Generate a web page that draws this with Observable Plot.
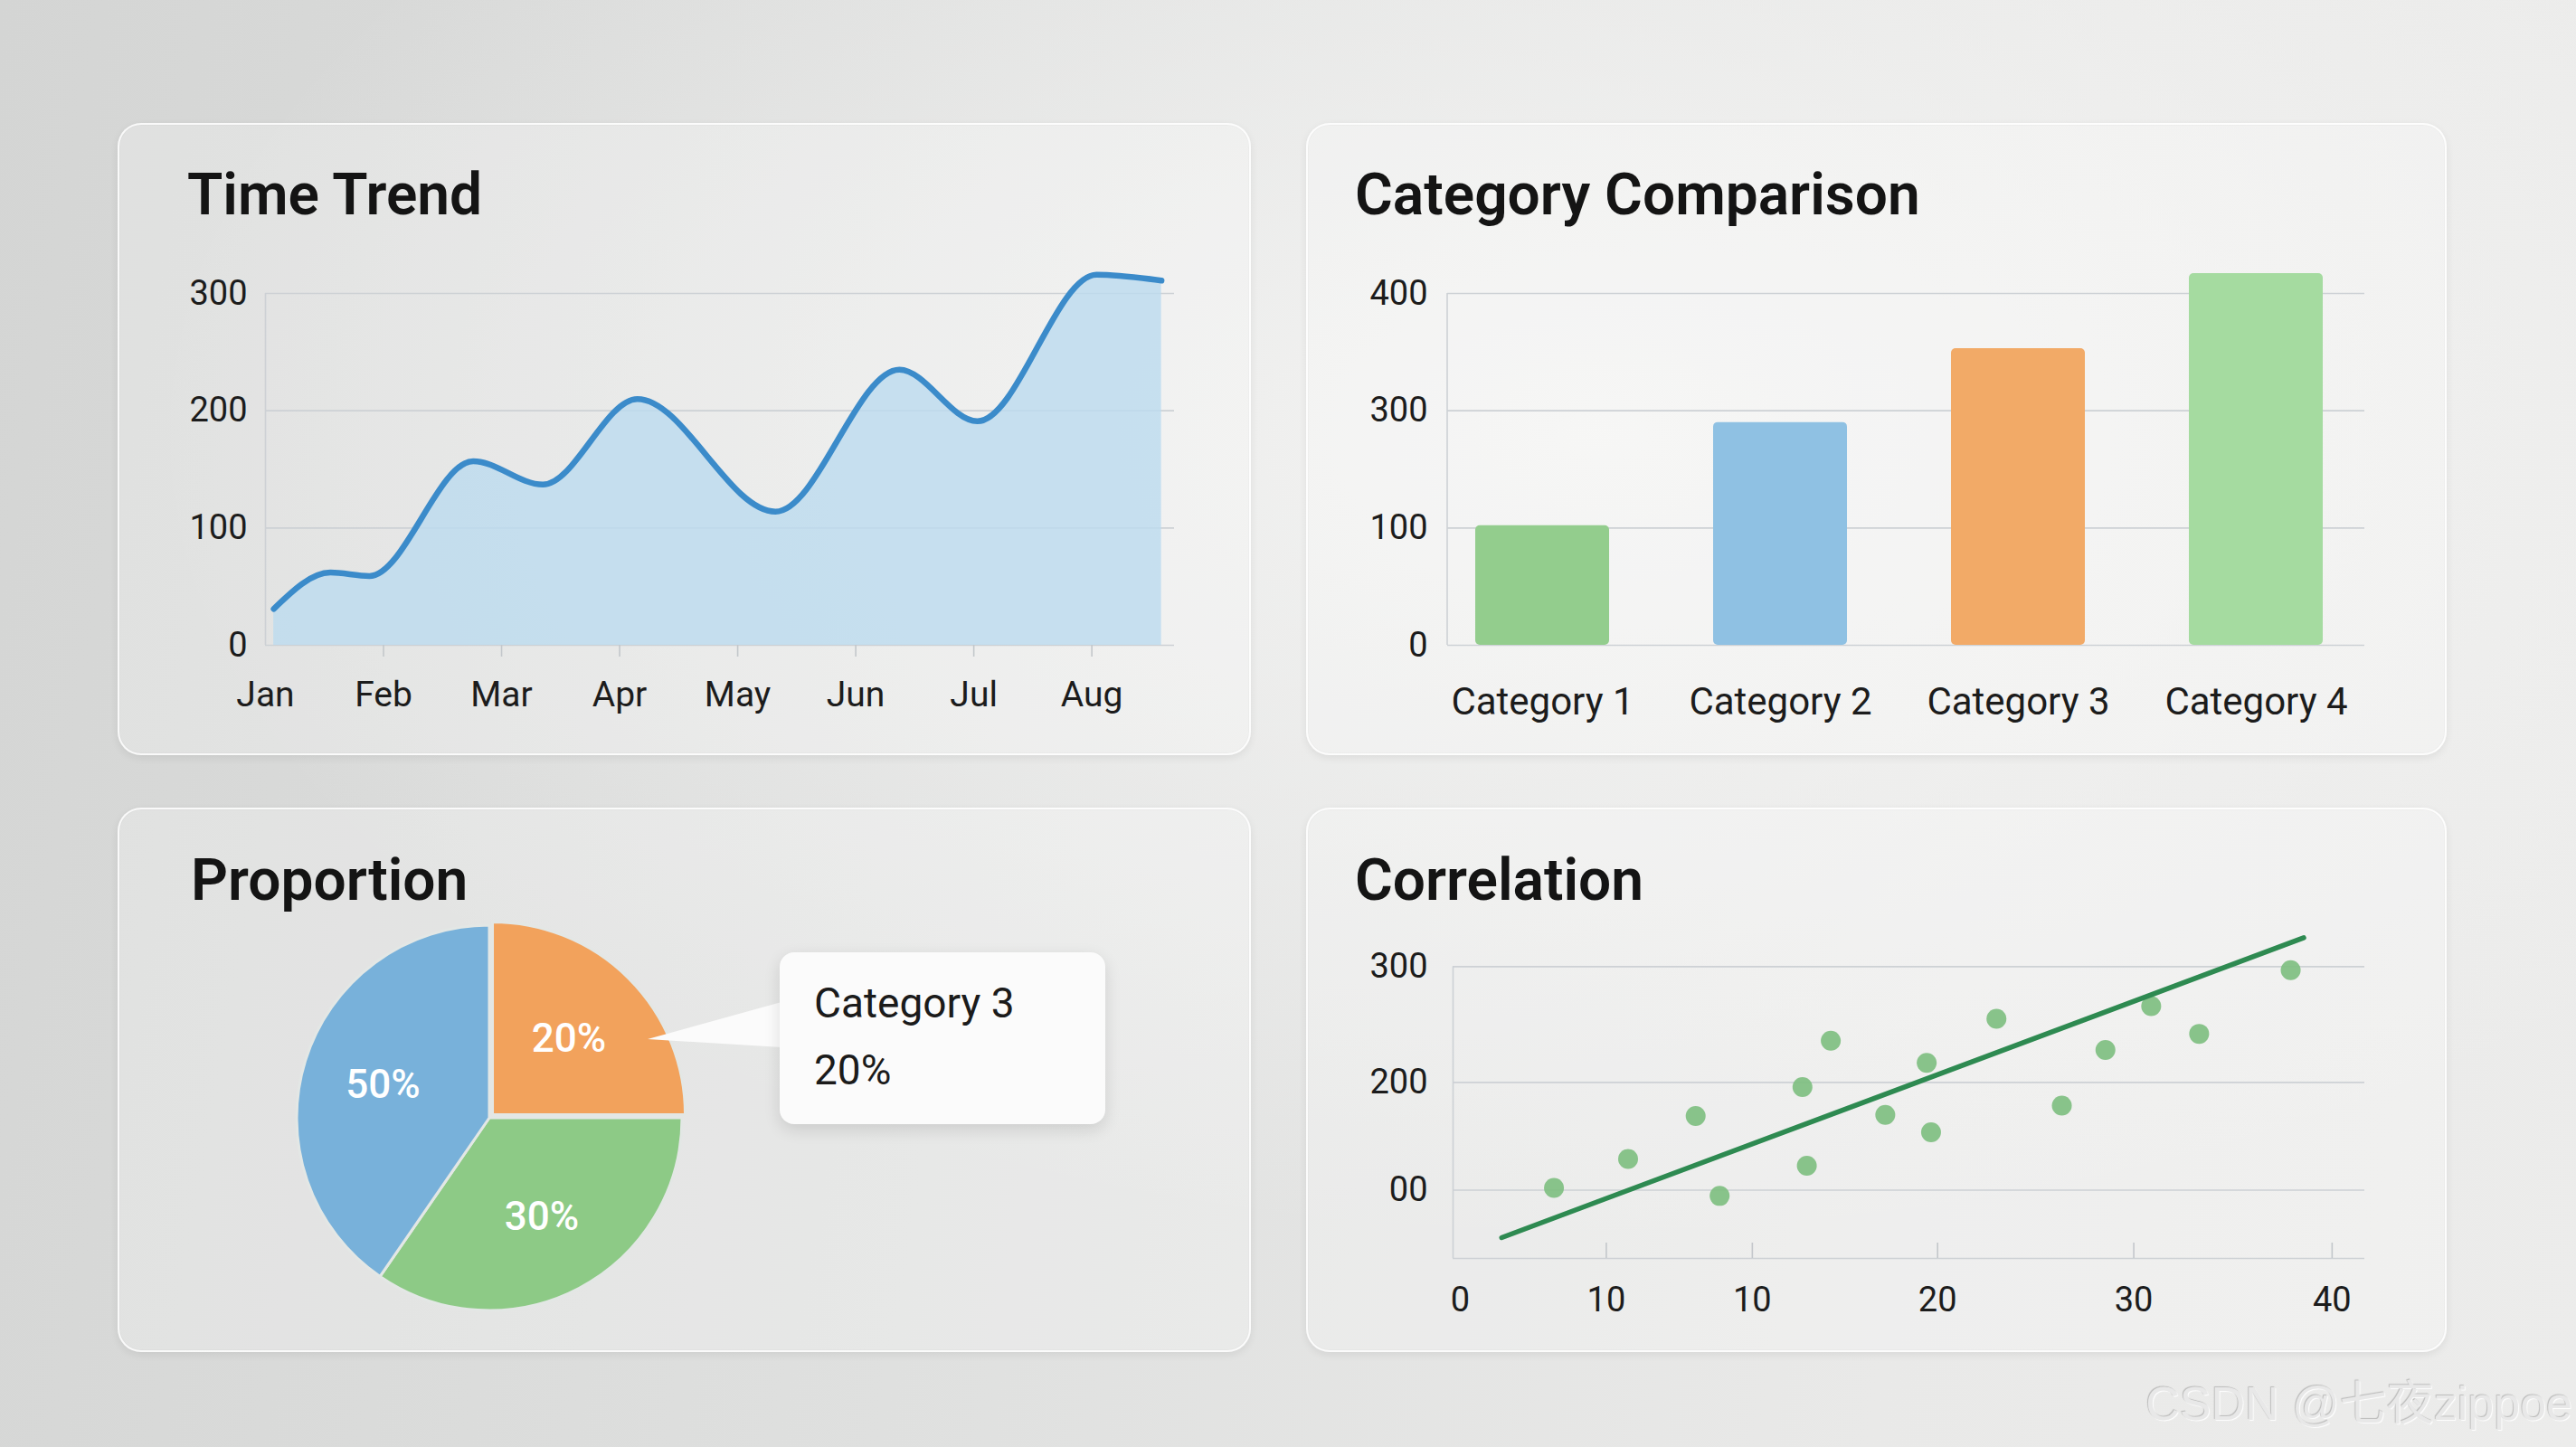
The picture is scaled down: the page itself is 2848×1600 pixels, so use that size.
<!DOCTYPE html>
<html>
<head>
<meta charset="utf-8">
<script src="https://cdn.jsdelivr.net/npm/d3@7"></script>
<script src="https://cdn.jsdelivr.net/npm/@observablehq/plot@0.6"></script>
<style>
  html, body { margin: 0; padding: 0; }
  body { width: 2848px; height: 1600px; overflow: hidden; font-family: Roboto, "Noto Sans", sans-serif; }
  #page {
    position: relative; width: 2848px; height: 1600px; overflow: hidden;
    background:
      radial-gradient(ellipse 1600px 900px at 62% 30%, rgba(245,245,244,0.9) 0%, rgba(245,245,244,0) 100%),
      linear-gradient(100deg, #d4d5d4 0%, #dfe0df 40%, #e9e9e8 75%, #ececeb 100%);
  }
  .card {
    position: absolute; box-sizing: border-box; border-radius: 26px;
    background: rgba(255,255,255,0.26);
    border: 2px solid rgba(255,255,255,0.8);
    box-shadow: 0 3px 10px rgba(0,0,0,0.07), inset 0 0 0 1px rgba(0,0,0,0.02);
  }
  .title { position: absolute; font-size: 64px; font-weight: 600; line-height: 64px; color: #141414; white-space: nowrap; }
  .tipbox {
    position: absolute; box-sizing: border-box; background: #fbfbfb; border-radius: 16px;
    box-shadow: 0 6px 18px rgba(0,0,0,0.12);
  }
  .tiptext { position: absolute; font-size: 46px; line-height: 46px; color: #1b1b1b; white-space: nowrap; }
  .wm {
    position: absolute; font-family: "Liberation Sans", "Noto Sans CJK SC", sans-serif; font-size: 52px; line-height: 60px;
    color: #e8e8e8; white-space: nowrap;
    text-shadow: -1px -1px 1px rgba(0,0,0,0.2), 1px 1px 1px rgba(255,255,255,0.95);
  }
</style>
</head>
<body>
<div id="page"></div>
<script>
// ---------------- DATA ----------------
const months = ["Jan", "Feb", "Mar", "Apr", "May", "Jun", "Jul", "Aug"];
const monthIndex = [0, 1, 2, 3, 4, 5, 6, 7];
const trendX = [0.07, 0.55, 0.88, 1.76, 2.35, 3.15, 4.32, 5.37, 6.03, 7.04, 7.59];
const trendY = [31, 62, 59, 157, 137, 210, 114, 235, 191, 316, 311];
const trendTicks = [0, 100, 200, 300];

const categories = ["Category 1", "Category 2", "Category 3", "Category 4"];
const barValues = [102, 190, 253, 317];
const barColors = ["#93cd8d", "#8fc1e3", "#f2aa67", "#a5dba0"];
const barTicks = [0, 100, 200, 300];
const barTickLabels = ["0", "100", "300", "400"];

const pieNames = ["Category 3", "Category 1", "Category 2"];
const pieValues = [25, 34.6, 40.4];
const pieLabels = ["20%", "30%", "50%"];
const pieColors = ["#f2a25c", "#8dca86", "#78b1da"];
const tipTitle = "Category 3";
const tipValue = "20%";

const scatterX = [4.3, 7.7, 10.8, 11.9, 15.7, 15.9, 17.0, 19.5, 21.4, 21.6, 24.6, 27.6, 29.6, 31.7, 33.9, 38.1];
const scatterY = [109, 134, 171, 102, 196, 128, 236, 172, 217, 157, 255, 180, 228, 266, 242, 297];
const fitX = [1.9, 38.7];
const fitY = [66, 325];
const corrXTicks = [0, 6.7, 13.4, 21.9, 30.9, 40];
const corrXLabels = ["0", "10", "10", "20", "30", "40"];
const corrYTicks = [107, 200, 300];
const corrYLabels = ["00", "200", "300"];

const watermark = "CSDN @七夜zippoe";

// ---------------- LAYOUT ----------------
const page = document.getElementById("page");
function addDiv(cls, css, text) {
  const d = document.createElement("div");
  d.className = cls;
  Object.assign(d.style, css);
  if (text != null) d.textContent = text;
  page.appendChild(d);
  return d;
}
function place(node, left, top) {
  node.style.position = "absolute";
  node.style.left = left + "px";
  node.style.top = top + "px";
  node.style.overflow = "visible";
  page.appendChild(node);
}

addDiv("card", {left: "130px", top: "136px", width: "1253px", height: "699px"});
addDiv("card", {left: "1444px", top: "136px", width: "1261px", height: "699px"});
addDiv("card", {left: "130px", top: "893px", width: "1253px", height: "602px"});
addDiv("card", {left: "1444px", top: "893px", width: "1261px", height: "602px"});

addDiv("title", {left: "207px", top: "184px"}, "Time Trend");
addDiv("title", {left: "1498px", top: "184px"}, "Category Comparison");
addDiv("title", {left: "211px", top: "942px"}, "Proportion");
addDiv("title", {left: "1498px", top: "942px"}, "Correlation");

const gridColor = "#cdd1d5";
const tickColor = "#c3c7cb";
const textColor = "#1c1c1c";
const baseStyle = {background: "transparent", fontFamily: "Roboto, 'Noto Sans', sans-serif", color: textColor, overflow: "visible"};

// ---------------- TIME TREND ----------------
const trend = trendX.map((x, i) => ({x, y: trendY[i]}));
const trendPlot = Plot.plot({
  width: 1140, height: 520,
  marginLeft: 103, marginRight: 32, marginTop: 34, marginBottom: 97,
  style: baseStyle,
  x: {domain: [0, 7.7], label: null},
  y: {domain: [0, 300], label: null},
  marks: [
    Plot.ruleY(trendTicks, {stroke: gridColor, strokeWidth: 1.6}),
    Plot.ruleX([0], {stroke: gridColor, strokeWidth: 1.6}),
    Plot.areaY(trend, {x: "x", y: "y", curve: "monotone-x", fill: "#bcdbef", fillOpacity: 0.8}),
    Plot.lineY(trend, {x: "x", y: "y", curve: "monotone-x", stroke: "#3b8bca", strokeWidth: 6.5, strokeLinecap: "round", strokeLinejoin: "round"}),
    Plot.axisY({ticks: trendTicks, tickSize: 0, tickPadding: 20, fontSize: 38, label: null}),
    Plot.axisX({ticks: monthIndex.slice(1), tickSize: 13, tickFormat: () => "", stroke: tickColor, strokeWidth: 1.6, label: null}),
    Plot.axisX({ticks: monthIndex, tickSize: 0, tickPadding: 40, tickFormat: i => months[i], fontSize: 39, label: null})
  ]
});
place(trendPlot, 190, 290);

// ---------------- CATEGORY COMPARISON ----------------
const bars = categories.map((c, i) => ({c, v: barValues[i], color: barColors[i]}));
const barLabelMap = new Map(barTicks.map((t, i) => [t, barTickLabels[i]]));
const leftAxisLine = (index, scales, values, dims) =>
  d3.create("svg:line")
    .attr("x1", dims.marginLeft).attr("x2", dims.marginLeft)
    .attr("y1", dims.marginTop).attr("y2", dims.height - dims.marginBottom)
    .attr("stroke", gridColor).attr("stroke-width", 1.6).node();
const barPlot = Plot.plot({
  width: 1200, height: 530,
  marginLeft: 120, marginRight: 66, marginTop: 34, marginBottom: 107,
  style: baseStyle,
  x: {domain: categories, paddingInner: 0.437, paddingOuter: 0.1425, align: 0.4, label: null},
  y: {domain: [0, 300], label: null},
  marks: [
    Plot.ruleY(barTicks, {stroke: gridColor, strokeWidth: 1.6}),
    leftAxisLine,
    Plot.barY(bars, {x: "c", y: "v", fill: "color", rx: 5}),
    Plot.axisY({ticks: barTicks, tickFormat: t => barLabelMap.get(t), tickSize: 0, tickPadding: 22, fontSize: 38, label: null}),
    Plot.axisX({tickSize: 0, tickPadding: 47, fontSize: 42, label: null})
  ]
});
place(barPlot, 1480, 290);

// ---------------- PROPORTION ----------------
const pieArcs = d3.pie().sort(null).value(d => d)(pieValues);
const pieRender = (index, scales, values, dims) => {
  const cx = scales.x(0), cy = scales.y(0), r = scales.x(1) - scales.x(0);
  const g = d3.create("svg:g");
  const arc = d3.arc().innerRadius(0).outerRadius(r);
  pieArcs.forEach((a, i) => {
    const mid = (a.startAngle + a.endAngle) / 2;
    const off = i === 0 ? 5 : 0;
    g.append("path")
      .attr("d", arc(a))
      .attr("transform", `translate(${cx + Math.sin(mid) * off},${cy - Math.cos(mid) * off})`)
      .attr("fill", pieColors[i])
      .attr("stroke", "#e3e7e5").attr("stroke-width", 3).attr("stroke-linejoin", "round");
  });
  return g.node();
};
const pieLabelData = pieArcs.map((a, i) => {
  const mid = (a.startAngle + a.endAngle) / 2;
  return {x: Math.sin(mid) * 0.58, y: Math.cos(mid) * 0.58, label: pieLabels[i], name: pieNames[i]};
});
const piePlot = Plot.plot({
  width: 560, height: 480, margin: 0,
  style: baseStyle,
  x: {domain: [-1, 1], range: [46, 472], axis: null},
  y: {domain: [-1, 1], range: [449, 23], axis: null},
  marks: [
    pieRender,
    Plot.text(pieLabelData, {x: "x", y: "y", text: "label", fill: "white", fontSize: 44, fontWeight: 500})
  ]
});
place(piePlot, 282, 1000);

// tooltip pointer + box
const ptr = d3.create("svg").attr("width", 160).attr("height", 60);
ptr.append("polygon").attr("points", "2,43 150,2 150,52").attr("fill", "#fbfbfb");
place(ptr.node(), 714, 1106);
addDiv("tipbox", {left: "862px", top: "1053px", width: "360px", height: "190px"});
addDiv("tiptext", {left: "900px", top: "1086px"}, tipTitle);
addDiv("tiptext", {left: "900px", top: "1160px"}, tipValue);

// ---------------- CORRELATION ----------------
const pts = scatterX.map((x, i) => ({x, y: scatterY[i]}));
const fit = fitX.map((x, i) => ({x, y: fitY[i]}));
const corrXDomain = [-0.33, 41.5];
const corrYDomain = [48, 330];
const corrXMap = new Map(corrXTicks.map((t, i) => [t, corrXLabels[i]]));
const corrYMap = new Map(corrYTicks.map((t, i) => [t, corrYLabels[i]]));
const corrFrameH = 480 - 30 - 89;
const corrPlot = Plot.plot({
  width: 1200, height: 480,
  marginLeft: 126, marginRight: 66, marginTop: 30, marginBottom: 89,
  style: baseStyle,
  x: {domain: corrXDomain, label: null},
  y: {domain: corrYDomain, label: null},
  marks: [
    Plot.ruleY(corrYTicks, {stroke: gridColor, strokeWidth: 1.6}),
    Plot.ruleY([corrYDomain[0]], {stroke: gridColor, strokeWidth: 1.6}),
    Plot.ruleX([corrXDomain[0]], {y1: corrYTicks[corrYTicks.length - 1], y2: corrYDomain[0], stroke: gridColor, strokeWidth: 1.6}),
    Plot.ruleX(corrXTicks.slice(1), {stroke: tickColor, strokeWidth: 1.6, insetTop: corrFrameH - 17}),
    Plot.dot(pts, {x: "x", y: "y", r: 11, fill: "#7fbf81", fillOpacity: 0.92}),
    Plot.line(fit, {x: "x", y: "y", stroke: "#2e8a51", strokeWidth: 5.5, strokeLinecap: "round"}),
    Plot.axisY({ticks: corrYTicks, tickFormat: t => corrYMap.get(t), tickSize: 0, tickPadding: 28, fontSize: 38, label: null}),
    Plot.axisX({ticks: corrXTicks, tickFormat: t => corrXMap.get(t), tickSize: 0, tickPadding: 32, fontSize: 38, label: null})
  ]
});
place(corrPlot, 1480, 1000);

// ---------------- WATERMARK ----------------
addDiv("wm", {right: "4px", top: "1522px"}, watermark);
</script>
</body>
</html>
